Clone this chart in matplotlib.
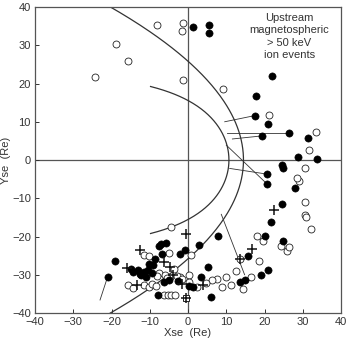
import numpy as np
import matplotlib
matplotlib.use("Agg")
import matplotlib.pyplot as plt

plt.rcParams['font.family'] = ['Liberation Sans', 'DejaVu Sans']

# event positions (Xse, YSe) in Re
filled_x = [1.3, 5.5, 5.5, 21.9, 17.7, 17.6, 20.9, 26.3, 19.3, 31.3, 28.7, 33.7, 24.6, 24.8,
            20.7, 20.7, 28.1, 24.5, 21.8,
            7.9, 20.2, 2.9, -0.7, -2.2, 15.8, 24.8, 5.2, 20.8, 19.0, 14.8, 13.5, 3.5, 1.3,
            0.3, 5.9, -2.6,
            -19.0, -21.0, -7.0, -5.7, -7.5, -6.8, -10.1, -9.2, -13.1, -14.9, -11.4, -10.5,
            -14.3, -12.2, -4.9, -6.2, -7.8, -8.5, -12.5, -11.0, -9.5]
filled_y = [34.8, 35.2, 33.3, 21.9, 16.8, 11.5, 9.3, 7.0, 6.3, 5.8, 0.7, 0.2, -1.3, -2.2,
            -3.7, -6.3, -7.2, -11.4, -16.1,
            -19.8, -19.8, -22.2, -23.5, -24.6, -25.1, -21.3, -28.0, -28.8, -30.0, -31.5, -32.0,
            -30.5, -33.3, -33.0, -35.7, -31.6,
            -26.4, -30.5, -21.9, -21.6, -22.5, -24.6, -27.1, -27.5, -28.8, -28.4, -29.2, -28.8,
            -29.3, -30.0, -31.4, -31.8, -35.2, -26.0, -29.8, -30.5, -29.5]

open_x = [-24.4, -18.8, -15.7, -8.2, -1.3, -1.7, -1.3, 9.1, 21.3, 33.5, 31.6, 30.6, 29.0,
          28.6, 30.7, 30.7, 30.9, 32.2,
          18.1, 19.6, 24.3, 25.9, 26.5, 0.9, 18.5, 12.6, 16.4, 14.4, 11.2, 9.9, 9.0, 7.6, 6.4,
          4.8, 0.3, 0.3, 2.4, 13.7,
          -4.4, -4.9, -11.4, -10.1, -15.6, -14.4, -11.4, -10.3, -9.3, -8.3, -6.2, -5.3, -4.4,
          -3.5, -7.5, -6.0, -3.6, -2.0, -8.0, -5.5, -3.0, -1.5]
open_y = [21.6, 30.2, 25.8, 35.2, 35.8, 33.7, 20.9, 18.5, 11.7, 7.2, 2.6, -2.2, -5.4,
          -4.8, -11.1, -14.5, -15.0, -18.0,
          -19.8, -21.3, -22.6, -23.8, -22.8, -24.8, -26.4, -29.0, -30.5, -33.8, -32.6, -30.5,
          -33.2, -31.2, -31.5, -32.1, -30.0, -31.8, -33.3, -25.9,
          -17.5, -24.2, -24.9, -25.1, -32.8, -33.4, -32.6, -33.1, -32.4, -33.0, -35.2, -35.2,
          -35.2, -35.2, -29.5, -30.0, -28.5, -30.5, -30.3, -30.8, -30.3, -31.2]

plus_x = [22.6, -0.6, 16.8, 13.7, 3.9, -1.7, -0.4, -12.5, -16.0, -6.4, -4.6, -4.0, -13.4]
plus_y = [-13.2, -19.3, -23.3, -25.9, -32.8, -32.5, -36.0, -23.5, -28.2, -26.6, -27.9, -30.1, -32.6]

square_x = [-0.4]
square_y = [-36.0]

# mapping lines: start (on boundary) and end (event)
line_x0 = [9.6, 10.1, 11.6, 10.9, 10.0, 8.7, -23.0]
line_y0 = [10.0, 7.0, 5.5, -2.2, 3.9, -14.2, -36.6]
line_x1 = [17.4, 26.3, 19.3, 20.7, 20.7, 14.8, -21.0]
line_y1 = [11.6, 7.0, 6.3, -3.7, -6.3, -30.0, -30.5]

# model boundaries
mp_r0, mp_alpha = 10.7, 0.54      # magnetopause (Shue form)
bs_x0, bs_k = 14.5, 46.0          # bow shock (parabola X = x0 - Y^2/k)

fig = plt.figure(figsize=(3.49, 3.42), dpi=100)
ax = fig.add_axes([0.1003, 0.0848, 0.8768, 0.8947])

dark = '#333333'

ax.axhline(0, color='#555555', lw=0.9, zorder=1)
ax.axvline(0, color='#555555', lw=0.9, zorder=1)

th = np.radians(np.linspace(-117, 117, 300))
r = mp_r0 * (2 / (1 + np.cos(th))) ** mp_alpha
ax.plot(r * np.cos(th), r * np.sin(th), color=dark, lw=0.9, zorder=2)

yb = np.linspace(-42, 42, 300)
ax.plot(bs_x0 - yb ** 2 / bs_k, yb, color=dark, lw=0.9, zorder=2)

for x0, y0, x1, y1 in zip(line_x0, line_y0, line_x1, line_y1):
    ax.plot([x0, x1], [y0, y1], color=dark, lw=0.6, zorder=2)

ax.plot(open_x, open_y, 'o', ms=5, mfc='white', mec='#222222', mew=0.6, zorder=3)
ax.plot(filled_x, filled_y, 'o', ms=5.2, mfc='black', mec='black', mew=0.4, zorder=4)
ax.plot(square_x, square_y, 's', ms=5, mfc='white', mec='#222222', mew=0.7, zorder=5)
ax.plot(plus_x, plus_y, '+', ms=7, mec='#111111', mew=1.1, zorder=6)

ax.set_xlim(-40, 40)
ax.set_ylim(-40, 40)
ax.set_xticks(range(-40, 41, 10))
ax.set_yticks(range(-40, 41, 10))
ax.tick_params(direction='in', length=3, width=0.7, labelsize=8, colors='#333333', pad=3)
for s in ax.spines.values():
    s.set_color('#555555')
    s.set_linewidth(0.9)

fig.text(188 / 349, 1 - 333 / 342, 'Xse  (Re)', ha='center', va='center', fontsize=8, color='#333333')
fig.text(6 / 349, 1 - 160 / 342, 'Yse  (Re)', ha='center', va='center', rotation=90, fontsize=8, color='#333333')

ax.text(26.5, 38.5, 'Upstream\nmagnetospheric\n> 50 keV\nion events', ha='center', va='top',
        fontsize=8, color='#333333', linespacing=1.3)

fig.savefig('out.png', dpi=100)
